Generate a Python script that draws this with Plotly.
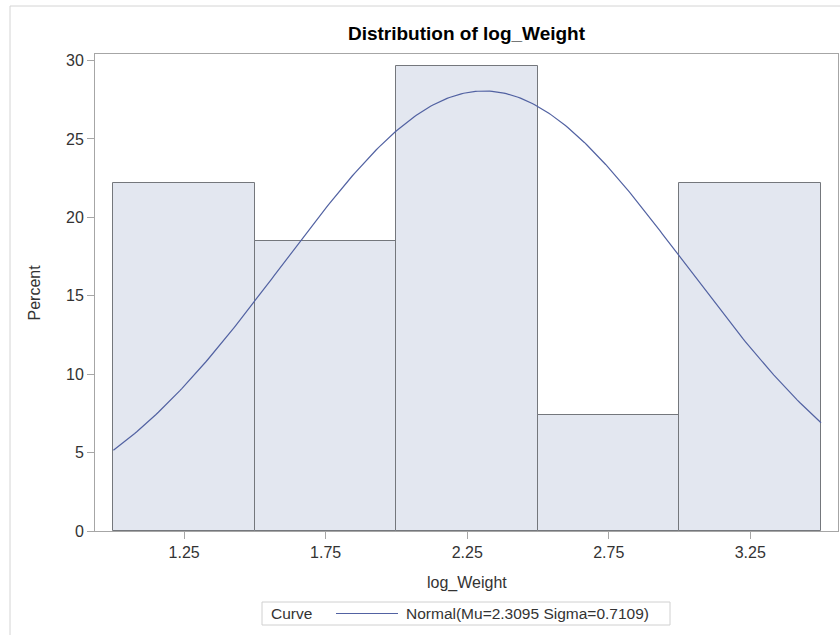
import numpy as np
import plotly.graph_objects as go

# Histogram of log_Weight (percent of observations per bin)
bin_midpoints = [1.25, 1.75, 2.25, 2.75, 3.25]
bin_percent = [22.22, 18.52, 29.63, 7.41, 22.22]
bin_width = 0.5

# Fitted normal density parameters
mu = 2.3095
sigma = 0.7109
curve_label = f"Normal(Mu={mu:.4f} Sigma={sigma:.4f})"

y_ticks = [0, 5, 10, 15, 20, 25, 30]
x_tick_labels = ["1.25", "1.75", "2.25", "2.75", "3.25"]

lo = bin_midpoints[0] - bin_width / 2
hi = bin_midpoints[-1] + bin_width / 2
xs = np.linspace(lo, hi, 300)
curve = 100 * bin_width * np.exp(-0.5 * ((xs - mu) / sigma) ** 2) / (sigma * np.sqrt(2 * np.pi))

FONT = "Liberation Sans, Arial, sans-serif"
AXIS_GRAY = "#a6a6a6"
TEXT = "#333333"
CURVE_COLOR = "#5262a2"

# plot area in pixels: x 95..838, y 54..531
L, R, T, B = 95, 838, 54, 531
W, H = R - L, B - T


def px(x):
    return (x - L) / W


def py(y):
    return (B - y) / H


fig = go.Figure()
fig.add_trace(go.Bar(
    x=bin_midpoints, y=bin_percent, width=bin_width,
    marker=dict(color="#e3e7f0", line=dict(color="#74777c", width=1)),
    showlegend=False, hoverinfo="skip",
))
fig.add_trace(go.Scatter(
    x=xs, y=curve, mode="lines",
    line=dict(color=CURVE_COLOR, width=1.2),
    name=curve_label, showlegend=False,
))

shapes = [
    # outer frame
    dict(type="rect", xref="paper", yref="paper",
         x0=px(10), x1=px(845), y0=py(645), y1=py(6),
         line=dict(color="#d4d4d4", width=1), layer="below"),
    # legend box
    dict(type="rect", xref="paper", yref="paper",
         x0=px(262), x1=px(670), y0=py(625), y1=py(602),
         line=dict(color="#d0d0d0", width=1), fillcolor="white"),
    # legend line sample
    dict(type="line", xref="paper", yref="paper",
         x0=px(336), x1=px(398), y0=py(613.5), y1=py(613.5),
         line=dict(color=CURVE_COLOR, width=1.2)),
]

annotations = [
    dict(text="log_Weight", xref="paper", yref="paper", x=0.5, y=py(583),
         xanchor="center", yanchor="middle", showarrow=False,
         font=dict(size=16, color=TEXT)),
    dict(text="Percent", xref="paper", yref="paper", x=px(34), y=0.5,
         xanchor="center", yanchor="middle", textangle=-90, showarrow=False,
         font=dict(size=16, color=TEXT)),
    dict(text="Curve", xref="paper", yref="paper", x=px(269), y=py(613.5),
         xanchor="left", yanchor="middle", showarrow=False,
         font=dict(size=15.5, color=TEXT)),
    dict(text=curve_label, xref="paper", yref="paper", x=px(404), y=py(613.5),
         xanchor="left", yanchor="middle", showarrow=False,
         font=dict(size=15.5, color=TEXT)),
]

fig.update_layout(
    width=840, height=635,
    margin=dict(l=L, r=840 - R, t=T, b=635 - B),
    paper_bgcolor="white", plot_bgcolor="white",
    font=dict(family=FONT, size=16, color=TEXT),
    title=dict(text="<b>Distribution of log_Weight</b>", x=(L + R) / 2 / 840, xanchor="center",
               y=1 - 33 / 635, yanchor="middle", yref="container",
               font=dict(size=19, color="#000000")),
    bargap=0,
    showlegend=False,
    shapes=shapes,
    annotations=annotations,
)

fig.update_xaxes(
    range=[0.935, 3.56], tickvals=bin_midpoints, ticktext=x_tick_labels,
    showline=True, linecolor=AXIS_GRAY, linewidth=1, mirror=True,
    ticks="outside", ticklen=7, tickcolor=AXIS_GRAY, showgrid=False, zeroline=False,
    tickfont=dict(size=16, color=TEXT),
)
fig.update_yaxes(
    range=[0, 30.42], tickvals=y_ticks,
    showline=True, linecolor=AXIS_GRAY, linewidth=1, mirror=True,
    ticks="outside", ticklen=7, tickcolor=AXIS_GRAY, showgrid=False, zeroline=False,
    tickfont=dict(size=16, color=TEXT),
)

fig.write_html("out.html")
